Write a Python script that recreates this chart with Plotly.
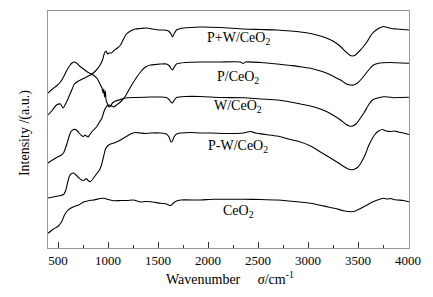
import plotly.graph_objects as go

# ---- data (wavenumber in cm^-1, intensity in a.u.) ----
pw_wn = [400, 445, 485, 525, 550, 585, 625, 665, 705, 765, 825, 875, 915, 945, 965, 980, 995, 1010, 1035, 1065,
         1095, 1125, 1155, 1185, 1225, 1275, 1325, 1385, 1445, 1505, 1565, 1605, 1630, 1645, 1660, 1685, 1725,
         1825, 1925, 2125, 2355, 2525, 2692, 2825, 2925, 3025, 3125, 3195, 3265, 3325, 3375, 3415, 3445, 3475,
         3515, 3555, 3595, 3635, 3675, 3715, 3755, 3795, 3835, 3885, 3945, 4010]
pw_int = [133, 138, 143, 144, 140, 146, 155, 164, 167, 170, 173, 177, 182, 188, 195, 197, 194, 195, 195, 198,
          200, 203, 209, 214, 217, 219, 219.5, 220, 219, 218, 218, 217, 214, 211, 214, 218, 219.5,
          220.5, 221, 220.5, 219, 218.5, 218, 217, 216, 214.5, 212, 209.5, 206, 201.5, 196.5, 193, 192, 193,
          197, 201.5, 207, 213.5, 217.5, 220, 221.5, 220.5, 219.5, 219, 218.5, 218]

p_wn = [400, 445, 495, 535, 555, 575, 595, 615, 635, 655, 675, 695, 715, 735, 755, 770, 785, 800, 815, 845,
        885, 915, 940, 955, 975, 995, 1015, 1035, 1055, 1085, 1125, 1175, 1225, 1275, 1325, 1375, 1425, 1475,
        1525, 1585, 1615, 1630, 1645, 1660, 1685, 1775, 1925, 2125, 2325, 2350, 2375, 2525, 2692, 2825, 2925,
        3025, 3125, 3195, 3265, 3325, 3385, 3425, 3455, 3495, 3535, 3575, 3615, 3655, 3695, 3755, 3825, 3925, 4010]
p_int = [85, 88, 91, 93, 95, 100, 106, 113, 117, 118.5, 118.5, 117, 114.5, 112.5, 111.5, 113, 112, 111, 113, 117,
         121, 126, 130, 135, 140, 142.5, 143, 142, 141, 143, 146, 152, 161, 169, 176, 181, 183, 183.5,
         184, 184, 182, 179.5, 178, 180.5, 184, 185.5, 186, 186, 186, 184.5, 186, 185.5, 184, 182.5, 181.3,
         179.7, 177, 174.5, 171, 168, 164, 163, 163, 165, 169, 174, 179, 183, 184.5, 185.3, 185.5, 185, 184.7]

w_wn = [400, 445, 485, 525, 555, 585, 615, 640, 660, 685, 715, 755, 795, 835, 865, 895, 920, 940, 950, 958,
        965, 973, 981, 995, 1010, 1025, 1045, 1075, 1125, 1175, 1275, 1425, 1525, 1585, 1615, 1630, 1645, 1660,
        1685, 1775, 1925, 2125, 2355, 2525, 2692, 2825, 2925, 3025, 3125, 3195, 3265, 3325, 3375, 3415, 3445,
        3485, 3525, 3565, 3605, 3645, 3695, 3755, 3805, 3855, 3925, 4010]
w_int = [155, 159, 162, 166, 171, 177, 182, 185, 186, 185, 182, 179, 176, 174, 172, 169, 164, 160, 155, 159,
         151, 157, 148, 144, 141, 142, 145, 147, 148.5, 150, 150.5, 151, 151, 150.5, 148, 146, 145, 147.5,
         150.5, 151.5, 151.5, 150.5, 150.3, 149, 148, 146, 144, 142, 139, 136, 132, 128, 124, 122, 122,
         124.5, 130, 136, 143, 148, 150, 151.3, 151, 150.3, 150.5, 150.7]

pmw_wn = [400, 475, 525, 555, 575, 595, 615, 635, 655, 675, 705, 735, 765, 785, 805, 825, 855, 885, 915, 935,
          955, 975, 995, 1025, 1075, 1125, 1175, 1225, 1275, 1325, 1375, 1425, 1525, 1585, 1610, 1630, 1645, 1660,
          1685, 1725, 1825, 1925, 2025, 2225, 2355, 2425, 2475, 2575, 2692, 2825, 2925, 3025, 3125, 3225, 3305,
          3365, 3415, 3455, 3495, 3535, 3575, 3605, 3635, 3665, 3705, 3745, 3785, 3825, 3865, 3905, 3955, 4010]
pmw_int = [50, 51.5, 52.5, 53.5, 57, 65, 72, 74.5, 75, 73.5, 70.5, 68, 68, 69.5, 67, 66.5, 70, 74, 78, 83,
           91, 99, 102, 104, 105.5, 108, 111, 114, 115.5, 115, 114.5, 115, 115, 114, 111, 106, 107, 111,
           114, 115, 115.5, 115, 115, 114.5, 115, 116.5, 115, 113.5, 112, 108.5, 106, 102, 96, 90, 85,
           81, 78.5, 78.5, 80.5, 86, 94, 102, 108, 113, 117, 118.5, 117, 116.5, 117, 116, 115, 113.5]

ce_wn = [400, 455, 505, 540, 565, 592, 625, 675, 708, 755, 805, 855, 925, 965, 995, 1055, 1125, 1195, 1255, 1325,
         1375, 1425, 1525, 1585, 1630, 1655, 1685, 1725, 1925, 2055, 2355, 2525, 2692, 2892, 3025, 3192, 3275,
         3355, 3425, 3475, 3525, 3592, 3645, 3695, 3755, 3795, 3825, 3855, 3895, 3955, 4010]
ce_int = [14.7, 19, 22, 27, 33, 37, 39.7, 42, 43, 46, 47.3, 48, 49.5, 49.7, 48.7, 47.3, 47.5, 47.5, 48, 46,
          46.5, 46.3, 44.7, 44, 42.5, 45, 47, 48, 48, 48.7, 48.7, 48.5, 48, 46.3, 44.7, 41.3, 39.5,
          37.3, 36.3, 37, 39.5, 43, 46, 48, 49.7, 49, 49.5, 48.5, 48, 47.5, 46.3]

series = [
    ("P+W/CeO<sub>2</sub>", pw_wn, pw_int),
    ("P/CeO<sub>2</sub>", p_wn, p_int),
    ("W/CeO<sub>2</sub>", w_wn, w_int),
    ("P-W/CeO<sub>2</sub>", pmw_wn, pmw_int),
    ("CeO<sub>2</sub>", ce_wn, ce_int),
]

label_x = [2300, 2300, 2300, 2300, 2300]
label_y = [210, 171, 142, 102, 37]

x_ticks = [500, 1000, 1500, 2000, 2500, 3000, 3500, 4000]

FONT = "Liberation Serif, Times New Roman, serif"

fig = go.Figure()
for name, xs, ys in series:
    fig.add_trace(go.Scatter(x=xs, y=ys, mode="lines", name=name,
                             line=dict(color="black", width=1.1, shape="spline", smoothing=0.6),
                             hoverinfo="skip", showlegend=False))

for (name, _, _), lx, ly in zip(series, label_x, label_y):
    fig.add_annotation(x=lx, y=ly, text=name, showarrow=False, xanchor="center", yanchor="middle",
                       font=dict(family=FONT, size=14, color="black"))

fig.add_annotation(xref="paper", yref="paper", x=-0.0636, y=0.485, text="Intensity /(a.u.)",
                   textangle=-90, showarrow=False, xanchor="center", yanchor="middle",
                   font=dict(family=FONT, size=14, color="black"))
fig.add_annotation(xref="paper", yref="paper", x=0.505, y=-0.127,
                   text="Wavenumber&nbsp;&nbsp;&nbsp;&nbsp;&nbsp;<i>σ</i>/cm<sup>-1</sup>",
                   showarrow=False, xanchor="center", yanchor="middle",
                   font=dict(family=FONT, size=14, color="black"))

# the page body has an 8px default margin, so the figure is sized to sit inside the window
fig.update_layout(
    width=417, height=281,
    margin=dict(l=39.5, r=16, t=3, b=41, autoexpand=False),
    paper_bgcolor="white", plot_bgcolor="white",
    font=dict(family=FONT, color="black"),
    xaxis=dict(range=[400, 4010], tickvals=x_ticks, ticktext=[str(v) for v in x_ticks],
               ticks="inside", ticklen=6, tickwidth=1, tickcolor="#333",
               minor=dict(ticks="inside", ticklen=3, tickwidth=1, tickcolor="#333", dtick=250, tick0=250),
               showline=True, linecolor="#9a9a9a", linewidth=1.3, mirror=True, automargin=False,
               showgrid=False, zeroline=False, tickfont=dict(family=FONT, size=13, color="black")),
    yaxis=dict(range=[0, 237], showticklabels=False, ticks="", showline=True, linecolor="#9a9a9a",
               linewidth=1.3, mirror=True, showgrid=False, zeroline=False, automargin=False),
)

fig.write_html("out.html")
